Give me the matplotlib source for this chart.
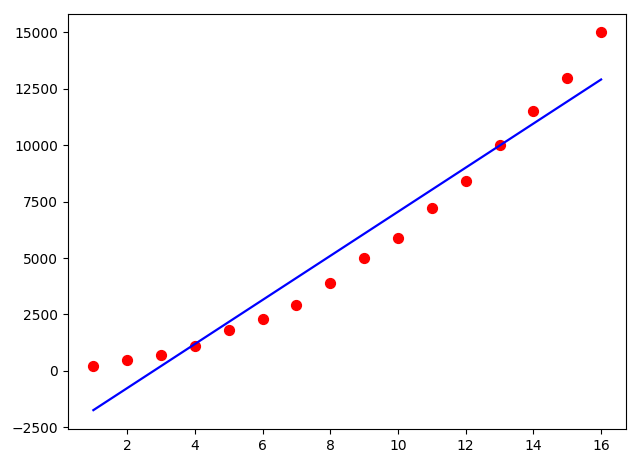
import numpy as np
import matplotlib
matplotlib.use("Agg")
import matplotlib.pyplot as plt

# level vs salary style data
x = np.arange(1, 17)
y = np.array([200, 500, 700, 1100, 1800, 2300, 2900, 3900,
              5000, 5900, 7200, 8400, 10000, 11500, 13000, 15000])

# straight-line fit
coef = np.polyfit(x, y, 1)
y_fit = np.polyval(coef, x)

fig = plt.figure(figsize=(6.39, 4.74), dpi=100)
ax = fig.add_axes([0.1064, 0.0949, 0.874, 0.8766])
ax.scatter(x, y, color="red", s=50)
ax.plot(x, y_fit, color="blue", linewidth=1.6)

fig.savefig("out.png", dpi=100)
